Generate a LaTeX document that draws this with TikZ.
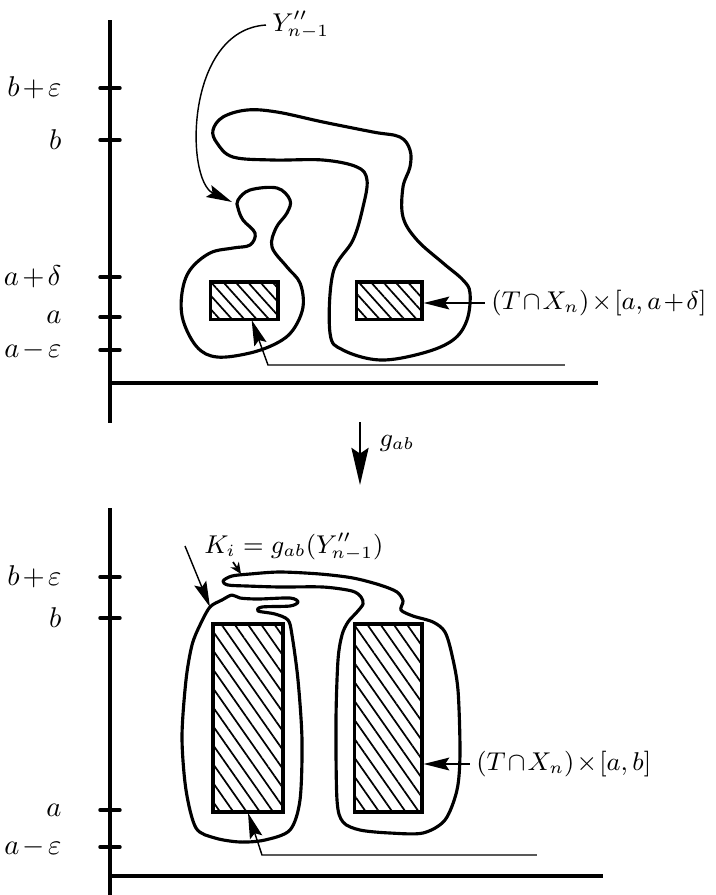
\documentclass[tikz,border=0pt]{standalone}
\usepackage{amsmath}
\usepackage{amssymb}
\usepackage{xcolor}
\usepackage{tikz}
\usetikzlibrary{arrows.meta,patterns.meta}

\tikzset{
  axis/.style={line width=1.2pt},
  tickmark/.style={line width=1.2pt, line cap=round},
  blob/.style={line width=1.1pt, line join=round},
  hatchbox/.style={draw, line width=1.1pt, inner sep=0pt, pattern={Lines[angle=-48,distance=3.2pt,line width=0.6pt]}},
  tallbox/.style={draw, line width=1.1pt, inner sep=0pt, pattern={Lines[angle=-55,distance=3.8pt,line width=0.6pt]}},
  pointer/.style={line width=0.5pt, -{Stealth[length=9pt,width=4.5pt,inset=1.5pt]}},
  ticklabel/.style={anchor=east, inner sep=0pt, execute at begin node={\medmuskip=2mu}},
  mathlabel/.style={anchor=west, inner sep=2pt, font=\fontsize{9}{11}\selectfont, execute at begin node={\medmuskip=1.5mu}},
}

\begin{document}
\begin{tikzpicture}[x=0.35pt,y=-0.35pt]
  \useasboundingbox (0,0) rectangle (716,895);

  \draw[axis] (110,20) -- (110,423);
  \draw[axis] (110,383) -- (598,383);
  \foreach \y in {88,140,277,317,350}
    \draw[tickmark] (100,\y) -- (120,\y);
  \node[ticklabel] (tbe) at (62,88) {$b+\varepsilon$};
  \node[ticklabel] (tb) at (62,140) {$b$};
  \node[ticklabel] (tad) at (62,277) {$a+\delta$};
  \node[ticklabel] (ta) at (62,317) {$a$};
  \node[ticklabel] (tae) at (62,350) {$a-\varepsilon$};

  \draw[blob] plot[smooth cycle, tension=0.6] coordinates {
    (238,200) (250,190) (277,188) (290,200) (287,213) (276,228) (272,247)
    (287,267) (300,283) (303,307) (293,330) (277,343) (250,353) (217,357)
    (197,347) (183,320) (182,293) (190,270) (210,253) (233,248) (250,245)
    (255,233) (243,220) (238,208)};
  \draw[blob] plot[smooth cycle, tension=0.6] coordinates {
    (330,333) (333,273) (353,240) (363,207) (367,180) (357,167) (323,160)
    (273,160) (233,157) (217,143) (213,130) (223,117) (247,110) (277,112)
    (323,122) (373,132) (400,137) (410,150) (410,167) (403,187) (403,217)
    (417,240) (443,263) (463,280) (470,293) (467,320) (453,340) (423,353)
    (380,360) (343,350)};

  \node[hatchbox, minimum width=23.5pt, minimum height=13pt] (boxTL) at (244.5,300.5) {};
  \node[hatchbox, minimum width=22.8pt, minimum height=13pt] (boxTR) at (389.5,300.5) {};

  \node[mathlabel] (ylab) at (266,25) {$Y''_{n-1}$};
  \coordinate (yhead) at (232,202);
  \draw[pointer] (ylab.west) .. controls (185,30) and (185,180) .. (yhead);

  \node[mathlabel] (rlab) at (485,303) {$(T\cap X_n)\times[a,a+\delta]$};
  \draw[pointer] (rlab.west) -- (boxTR.east |- rlab.west);

  \coordinate (baseT) at (565,365);
  \coordinate (bendT) at (268,365);
  \draw[pointer] (baseT) -- (bendT) -- ([xshift=2.5pt]boxTL.south);

  \draw[line width=0.8pt, -{Stealth[length=13pt,width=6pt,inset=2pt]}] (360,422) -- (360,485);
  \node[anchor=west, inner sep=0pt, font=\fontsize{9}{11}\selectfont] (glab) at (379,443) {$g_{ab}$};

  \draw[axis] (110,508) -- (110,895);
  \draw[axis] (110,876) -- (603,876);
  \foreach \y in {577,618,810,847}
    \draw[tickmark] (100,\y) -- (120,\y);
  \node[ticklabel] (bbe) at (62,577) {$b+\varepsilon$};
  \node[ticklabel] (bb) at (62,618) {$b$};
  \node[ticklabel] (ba) at (62,810) {$a$};
  \node[ticklabel] (bae) at (62,847) {$a-\varepsilon$};

  \draw[blob] plot[smooth cycle, tension=0.5] coordinates {
    (210,607) (222,600) (232,595) (240,598) (258,599) (290,598) (298,602)
    (290,606) (262,607) (258,611) (275,614) (288,620) (292,635) (298,680)
    (302,740) (300,800) (290,830) (265,840) (240,842) (215,838) (196,828)
    (186,790) (182,737) (186,680) (192,645) (200,625)};
  \draw[blob] plot[smooth cycle, tension=0.5] coordinates {
    (223,581) (232,576) (250,574) (280,572) (320,574) (353,578) (380,585)
    (397,592) (403,601) (401,610) (413,616) (433,622) (445,632) (452,655)
    (458,690) (460,753) (457,790) (445,820) (423,833) (390,833) (360,830)
    (343,822) (337,800) (336,720) (338,660) (342,635) (348,622) (357,612)
    (363,604) (361,597) (352,591) (323,587) (280,587) (247,586) (228,585)};

  \node[tallbox, minimum width=24.5pt, minimum height=65.8pt] (boxBL) at (248,718) {};
  \node[tallbox, minimum width=23.5pt, minimum height=65.8pt] (boxBR) at (388.5,718) {};

  \node[mathlabel, execute at begin node={\medmuskip=2mu}] (klab) at (198,547) {$K_i = g_{ab}(Y''_{n-1})$};
  \coordinate (kstart) at (185,546);
  \coordinate (ktip) at (210,607);
  \draw[pointer] (kstart) -- (ktip);
  \coordinate (sstart) at (233,562);
  \coordinate (stip) at (241,574);
  \draw[line width=0.6pt, -{Stealth[length=4pt,width=3.5pt]}] (sstart) -- (stip);

  \node[mathlabel] (rlabB) at (470,764) {$(T\cap X_n)\times[a,b]$};
  \draw[pointer] (rlabB.west) -- (boxBR.east |- rlabB.west);

  \coordinate (baseB) at (537,855);
  \coordinate (bendB) at (262,855);
  \draw[pointer] (baseB) -- (bendB) -- (boxBL.south);
\end{tikzpicture}
\end{document}
